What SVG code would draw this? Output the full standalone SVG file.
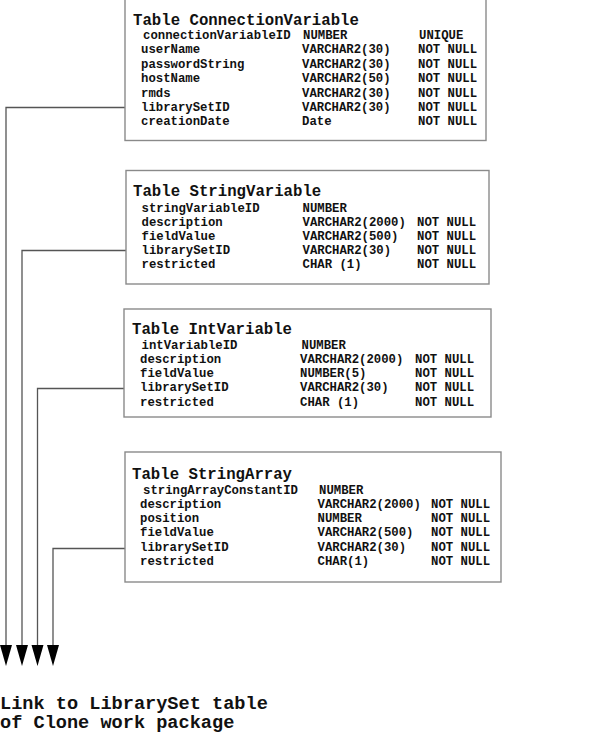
<svg xmlns="http://www.w3.org/2000/svg" width="600" height="732" viewBox="0 0 600 732">
<style>
.box{fill:#fff;stroke:#8a8a8a;stroke-width:1.4}
text{font-family:"Liberation Mono","Courier New",monospace;font-weight:bold;fill:#111}
.t{font-size:15.7px}
.r{font-size:12.3px}
.big{font-size:18.6px}
.c{fill:none;stroke:#555;stroke-width:1.3}
.ah{fill:#000}
</style>
<rect width="600" height="732" fill="#fff"/>
<g id="connectors">
<polyline class="c" points="125,107.5 6,107.5 6,646"/>
<polyline class="c" points="126,250.5 22,250.5 22,646"/>
<polyline class="c" points="124,388.5 37.5,388.5 37.5,646"/>
<polyline class="c" points="125,548.5 53,548.5 53,646"/>
<polygon class="ah" points="0,645 12,645 6,666"/>
<polygon class="ah" points="16,645 28,645 22,666"/>
<polygon class="ah" points="31.5,645 43.5,645 37.5,666"/>
<polygon class="ah" points="47,645 59,645 53,666"/>
</g>
<g id="ConnectionVariable">
<rect class="box" x="125" y="-3" width="361" height="143.5"/>
<text class="t" x="133" y="25">Table ConnectionVariable</text>
<text class="r" x="143" y="39">connectionVariableID</text><text class="r" x="303" y="39">NUMBER</text><text class="r" x="419" y="39">UNIQUE</text>
<text class="r" x="141" y="53.4">userName</text><text class="r" x="302" y="53.4">VARCHAR2(30)</text><text class="r" x="418" y="53.4">NOT NULL</text>
<text class="r" x="141" y="67.8">passwordString</text><text class="r" x="302" y="67.8">VARCHAR2(30)</text><text class="r" x="418" y="67.8">NOT NULL</text>
<text class="r" x="141" y="82.1">hostName</text><text class="r" x="302" y="82.1">VARCHAR2(50)</text><text class="r" x="418" y="82.1">NOT NULL</text>
<text class="r" x="141" y="96.5">rmds</text><text class="r" x="302" y="96.5">VARCHAR2(30)</text><text class="r" x="418" y="96.5">NOT NULL</text>
<text class="r" x="141" y="110.9">librarySetID</text><text class="r" x="302" y="110.9">VARCHAR2(30)</text><text class="r" x="418" y="110.9">NOT NULL</text>
<text class="r" x="141" y="125.2">creationDate</text><text class="r" x="302" y="125.2">Date</text><text class="r" x="418" y="125.2">NOT NULL</text>
</g>
<g id="StringVariable">
<rect class="box" x="126" y="170.5" width="363" height="113.5"/>
<text class="t" x="133" y="195.5">Table StringVariable</text>
<text class="r" x="141.5" y="211.5">stringVariableID</text><text class="r" x="302.5" y="211.5">NUMBER</text>
<text class="r" x="141.5" y="225.8">description</text><text class="r" x="302.5" y="225.8">VARCHAR2(2000)</text><text class="r" x="417" y="225.8">NOT NULL</text>
<text class="r" x="141.5" y="240">fieldValue</text><text class="r" x="302.5" y="240">VARCHAR2(500)</text><text class="r" x="417" y="240">NOT NULL</text>
<text class="r" x="141.5" y="254.2">librarySetID</text><text class="r" x="302.5" y="254.2">VARCHAR2(30)</text><text class="r" x="417" y="254.2">NOT NULL</text>
<text class="r" x="141.5" y="268.4">restricted</text><text class="r" x="302.5" y="268.4">CHAR (1)</text><text class="r" x="417" y="268.4">NOT NULL</text>
</g>
<g id="IntVariable">
<rect class="box" x="124" y="309" width="367" height="108"/>
<text class="t" x="132" y="334.3">Table IntVariable</text>
<text class="r" x="141.5" y="349">intVariableID</text><text class="r" x="301.5" y="349">NUMBER</text>
<text class="r" x="140" y="363">description</text><text class="r" x="300" y="363">VARCHAR2(2000)</text><text class="r" x="415" y="363">NOT NULL</text>
<text class="r" x="140" y="377.2">fieldValue</text><text class="r" x="300" y="377.2">NUMBER(5)</text><text class="r" x="415" y="377.2">NOT NULL</text>
<text class="r" x="140" y="391.4">librarySetID</text><text class="r" x="300" y="391.4">VARCHAR2(30)</text><text class="r" x="415" y="391.4">NOT NULL</text>
<text class="r" x="140" y="405.6">restricted</text><text class="r" x="300" y="405.6">CHAR (1)</text><text class="r" x="415" y="405.6">NOT NULL</text>
</g>
<g id="StringArray">
<rect class="box" x="125" y="452" width="376" height="130"/>
<text class="t" x="132" y="479.3">Table StringArray</text>
<text class="r" x="143" y="494.3">stringArrayConstantID</text><text class="r" x="319" y="494.3">NUMBER</text>
<text class="r" x="140" y="508.3">description</text><text class="r" x="317.5" y="508.3">VARCHAR2(2000)</text><text class="r" x="431" y="508.3">NOT NULL</text>
<text class="r" x="140" y="522.3">position</text><text class="r" x="317.5" y="522.3">NUMBER</text><text class="r" x="431" y="522.3">NOT NULL</text>
<text class="r" x="140" y="536.4">fieldValue</text><text class="r" x="317.5" y="536.4">VARCHAR2(500)</text><text class="r" x="431" y="536.4">NOT NULL</text>
<text class="r" x="140" y="550.5">librarySetID</text><text class="r" x="317.5" y="550.5">VARCHAR2(30)</text><text class="r" x="431" y="550.5">NOT NULL</text>
<text class="r" x="140" y="564.6">restricted</text><text class="r" x="317.5" y="564.6">CHAR(1)</text><text class="r" x="431" y="564.6">NOT NULL</text>
</g>
<g id="LibrarySetLink">
<text class="big" x="0" y="708.5">Link to LibrarySet table</text>
<text class="big" x="0" y="727.5">of Clone work package</text>
</g>
</svg>
